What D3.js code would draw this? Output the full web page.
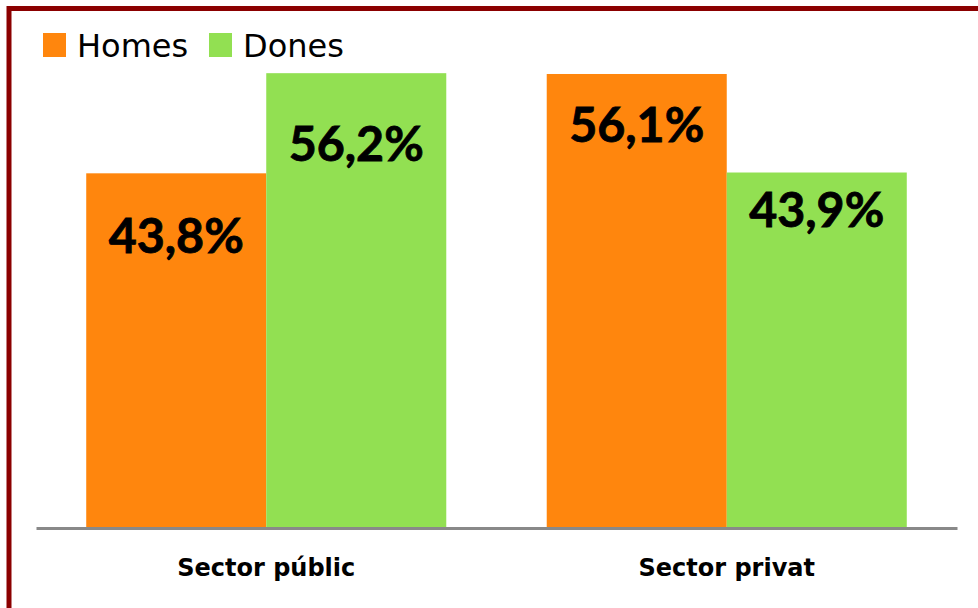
<!DOCTYPE html>
<html>
<head>
<meta charset="utf-8">
<script src="https://cdn.jsdelivr.net/npm/d3@7"></script>
<style>
  html, body { margin: 0; padding: 0; background: #fff; }
  svg { display: block; }
</style>
</head>
<body>
<svg id="chart"></svg>
<script>
const categories = ["Sector públic", "Sector privat"];
const seriesNames = ["Homes", "Dones"];
const homes = [43.8, 56.1];
const dones = [56.2, 43.9];
const valueLabels = [["43,8%", "56,1%"], ["56,2%", "43,9%"]];

const width = 978;
const height = 608;
const colors = ["#FF860D", "#92E052"];
// label baseline offset from bar top, hand placed like in the source chart
const labelDy = [[80, 68], [88, 54]];

const svg = d3.select("#chart")
  .attr("width", width)
  .attr("height", height);

// Frame
svg.append("rect")
  .attr("x", 9)
  .attr("y", 8.5)
  .attr("width", 1000)
  .attr("height", 700)
  .attr("fill", "none")
  .attr("stroke", "#8B0000")
  .attr("stroke-width", 5);

const x0 = d3.scaleBand()
  .domain(categories)
  .range([36, 957])
  .padding(0);

const x1 = d3.scaleBand()
  .domain(seriesNames)
  .range([0, x0.bandwidth()])
  .paddingInner(0)
  .paddingOuter(0.279);

const y = d3.scaleLinear()
  .domain([0, 60])
  .range([527, 42.5]);

const series = [homes, dones];

const groups = svg.selectAll(".series")
  .data(series)
  .enter()
  .append("g")
  .attr("class", "series");

groups.selectAll("rect")
  .data((vals, si) => vals.map((v, ci) => ({ v, si, ci })))
  .enter()
  .append("rect")
  .attr("x", d => x0(categories[d.ci]) + x1(seriesNames[d.si]))
  .attr("y", d => y(d.v))
  .attr("width", x1.bandwidth())
  .attr("height", d => y(0) - y(d.v))
  .attr("fill", d => colors[d.si]);

// Value labels (Calibri-like: stretched Lato bold, a bit heavier)
groups.selectAll("text")
  .data((vals, si) => vals.map((v, ci) => ({ v, si, ci })))
  .enter()
  .append("text")
  .attr("x", d => x0(categories[d.ci]) + x1(seriesNames[d.si]) + x1.bandwidth() / 2)
  .attr("y", d => y(d.v) + labelDy[d.si][d.ci])
  .attr("text-anchor", "middle")
  .attr("font-family", "Lato, 'Open Sans', sans-serif")
  .attr("font-weight", "bold")
  .attr("font-size", 47)
  .attr("textLength", 135)
  .attr("lengthAdjust", "spacingAndGlyphs")
  .attr("fill", "#000")
  .attr("stroke", "#000")
  .attr("stroke-width", 0.8)
  .text(d => valueLabels[d.si][d.ci]);

// Category axis
const axis = svg.append("g")
  .attr("transform", `translate(0,${y(0) + 1})`)
  .call(d3.axisBottom(x0).tickSize(0).tickPadding(0));

axis.select(".domain")
  .attr("stroke", "#898989")
  .attr("stroke-width", 3);

axis.selectAll("text")
  .attr("dy", 0)
  .attr("y", 48)
  .attr("font-family", "'DejaVu Sans', sans-serif")
  .attr("font-weight", "bold")
  .attr("font-size", 24)
  .attr("fill", "#000");

// Legend
const legendX = [43, 209];
const legend = svg.selectAll(".legend")
  .data(seriesNames)
  .enter()
  .append("g")
  .attr("class", "legend")
  .attr("transform", (d, i) => `translate(${legendX[i]},33)`);

legend.append("rect")
  .attr("width", 23)
  .attr("height", 24)
  .attr("fill", (d, i) => colors[i]);

legend.append("text")
  .attr("x", 34)
  .attr("y", 24)
  .attr("font-family", "'DejaVu Sans', sans-serif")
  .attr("font-size", 32)
  .attr("fill", "#000")
  .text(d => d);
</script>
</body>
</html>
